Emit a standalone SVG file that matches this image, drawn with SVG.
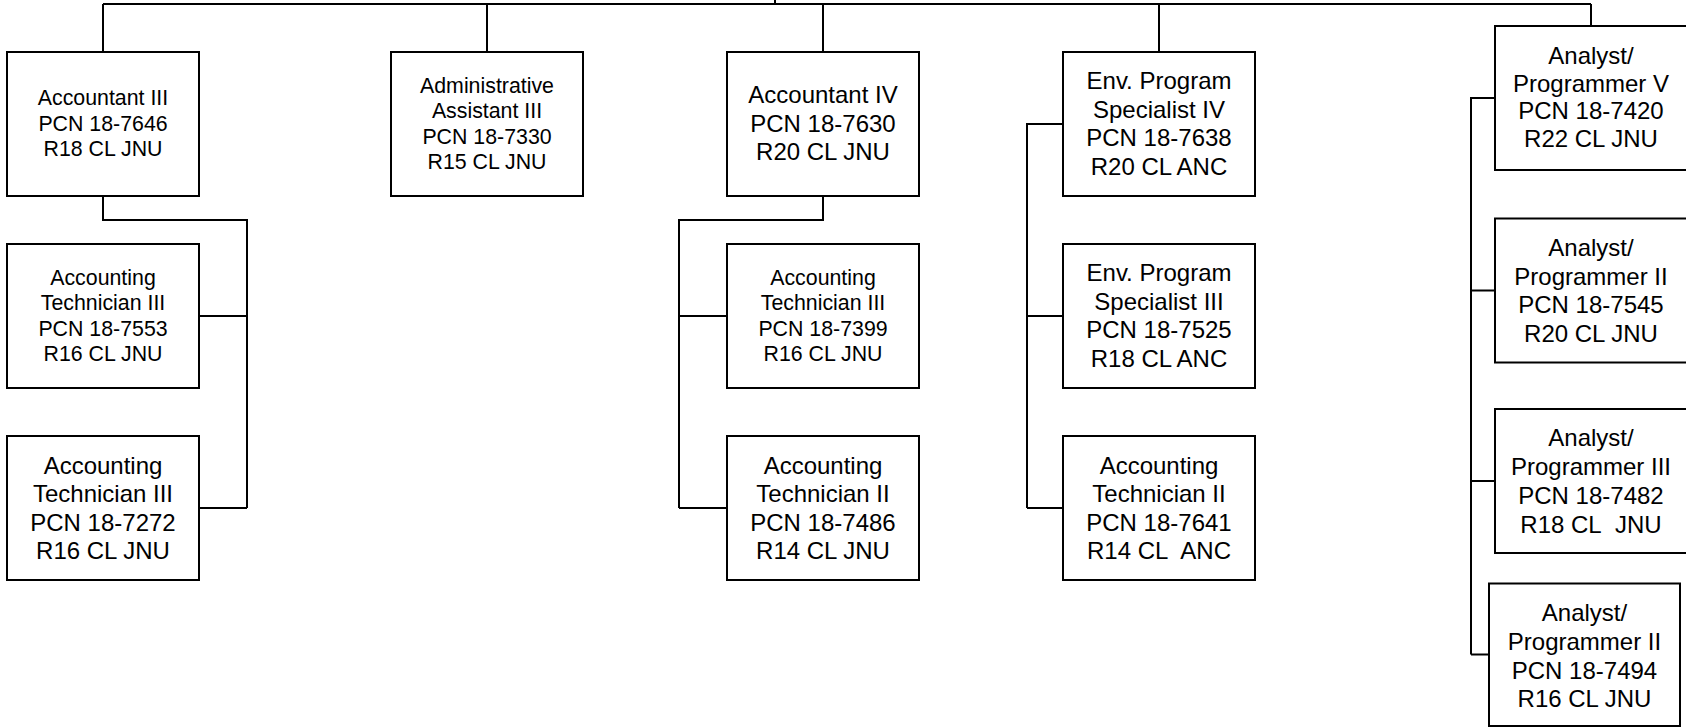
<svg xmlns="http://www.w3.org/2000/svg" width="1686" height="727" viewBox="0 0 1686 727">
<style>
.box{fill:#fff;stroke:#000;stroke-width:2}
.c{fill:none;stroke:#000;stroke-width:2}
text{font-family:"Liberation Sans",Arial,sans-serif;fill:#000;text-anchor:middle}
.s{font-size:21.33px}
.l{font-size:24px}
</style>
<rect width="1686" height="727" fill="#fff"/>
<g id="connectors">
<path class="c" d="M775,0V4M103,4H1591M103,4V52M487,4V52M823,4V52M1159,4V52M1591,4V26"/>
<path class="c" d="M103,196V220H247V508M199,316H247M199,508H247"/>
<path class="c" d="M823,196V220H679V508M679,316H727M679,508H727"/>
<path class="c" d="M1063,124H1027V508M1027,316H1063M1027,508H1063"/>
<path class="c" d="M1495,98H1471V654.5M1471,290.5H1495M1471,481H1495M1471,654.5H1489"/>
</g>
<g id="accountant3">
<rect class="box" x="7" y="52" width="192" height="144"/>
<text class="s"><tspan x="103" y="105">Accountant III</tspan><tspan x="103" y="130.5">PCN 18-7646</tspan><tspan x="103" y="156">R18 CL JNU</tspan></text>
</g>
<g id="admin3">
<rect class="box" x="391" y="52" width="192" height="144"/>
<text class="s"><tspan x="487" y="92.5">Administrative</tspan><tspan x="487" y="118">Assistant III</tspan><tspan x="487" y="143.5">PCN 18-7330</tspan><tspan x="487" y="169">R15 CL JNU</tspan></text>
</g>
<g id="acctech3a">
<rect class="box" x="7" y="244" width="192" height="144"/>
<text class="s"><tspan x="103" y="284.5">Accounting</tspan><tspan x="103" y="310">Technician III</tspan><tspan x="103" y="335.5">PCN 18-7553</tspan><tspan x="103" y="361">R16 CL JNU</tspan></text>
</g>
<g id="acctech3b">
<rect class="box" x="7" y="436" width="192" height="144"/>
<text class="l"><tspan x="103" y="473.5">Accounting</tspan><tspan x="103" y="502">Technician III</tspan><tspan x="103" y="530.5">PCN 18-7272</tspan><tspan x="103" y="559">R16 CL JNU</tspan></text>
</g>
<g id="accountant4">
<rect class="box" x="727" y="52" width="192" height="144"/>
<text class="l"><tspan x="823" y="103">Accountant IV</tspan><tspan x="823" y="131.5">PCN 18-7630</tspan><tspan x="823" y="160">R20 CL JNU</tspan></text>
</g>
<g id="acctech3c">
<rect class="box" x="727" y="244" width="192" height="144"/>
<text class="s"><tspan x="823" y="284.5">Accounting</tspan><tspan x="823" y="310">Technician III</tspan><tspan x="823" y="335.5">PCN 18-7399</tspan><tspan x="823" y="361">R16 CL JNU</tspan></text>
</g>
<g id="acctech2a">
<rect class="box" x="727" y="436" width="192" height="144"/>
<text class="l"><tspan x="823" y="473.5">Accounting</tspan><tspan x="823" y="502">Technician II</tspan><tspan x="823" y="530.5">PCN 18-7486</tspan><tspan x="823" y="559">R14 CL JNU</tspan></text>
</g>
<g id="envspec4">
<rect class="box" x="1063" y="52" width="192" height="144"/>
<text class="l"><tspan x="1159" y="89">Env. Program</tspan><tspan x="1159" y="117.5">Specialist IV</tspan><tspan x="1159" y="146">PCN 18-7638</tspan><tspan x="1159" y="174.5">R20 CL ANC</tspan></text>
</g>
<g id="envspec3">
<rect class="box" x="1063" y="244" width="192" height="144"/>
<text class="l"><tspan x="1159" y="281">Env. Program</tspan><tspan x="1159" y="309.5">Specialist III</tspan><tspan x="1159" y="338">PCN 18-7525</tspan><tspan x="1159" y="366.5">R18 CL ANC</tspan></text>
</g>
<g id="acctech2b">
<rect class="box" x="1063" y="436" width="192" height="144"/>
<text class="l"><tspan x="1159" y="473.5">Accounting</tspan><tspan x="1159" y="502">Technician II</tspan><tspan x="1159" y="530.5">PCN 18-7641</tspan><tspan x="1159" y="559">R14 CL&#160; ANC</tspan></text>
</g>
<g id="analyst5">
<rect class="box" x="1495" y="26" width="192" height="144"/>
<text class="l"><tspan x="1591" y="64">Analyst/</tspan><tspan x="1591" y="91.5">Programmer V</tspan><tspan x="1591" y="119">PCN 18-7420</tspan><tspan x="1591" y="146.5">R22 CL JNU</tspan></text>
</g>
<g id="analyst2a">
<rect class="box" x="1495" y="218.5" width="192" height="144"/>
<text class="l"><tspan x="1591" y="256">Analyst/</tspan><tspan x="1591" y="284.5">Programmer II</tspan><tspan x="1591" y="313">PCN 18-7545</tspan><tspan x="1591" y="341.5">R20 CL JNU</tspan></text>
</g>
<g id="analyst3">
<rect class="box" x="1495" y="409" width="192" height="144"/>
<text class="l"><tspan x="1591" y="446">Analyst/</tspan><tspan x="1591" y="475">Programmer III</tspan><tspan x="1591" y="504">PCN 18-7482</tspan><tspan x="1591" y="533">R18 CL&#160; JNU</tspan></text>
</g>
<g id="analyst2b">
<rect class="box" x="1489" y="583.5" width="191" height="142.5"/>
<text class="l"><tspan x="1584.5" y="620.5">Analyst/</tspan><tspan x="1584.5" y="650">Programmer II</tspan><tspan x="1584.5" y="679">PCN 18-7494</tspan><tspan x="1584.5" y="707">R16 CL JNU</tspan></text>
</g>
</svg>
